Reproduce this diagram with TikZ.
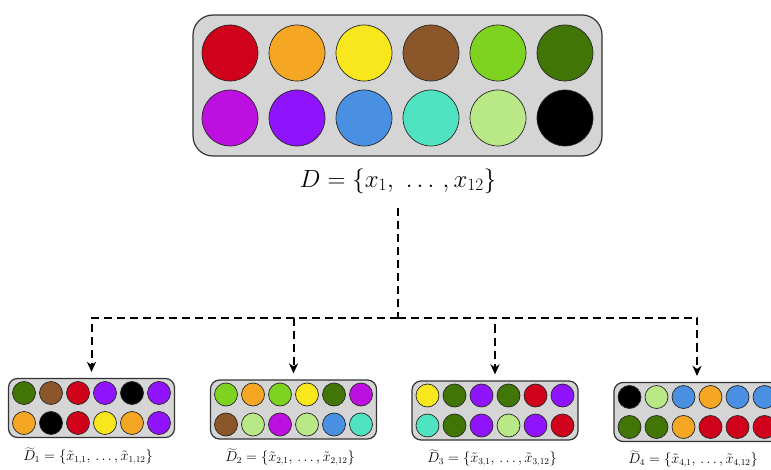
\documentclass[tikz,border=0pt]{standalone}
\usetikzlibrary{arrows.meta,calc}
\definecolor{cR}{HTML}{D0021B}
\definecolor{cO}{HTML}{F5A623}
\definecolor{cY}{HTML}{F8E71C}
\definecolor{cB}{HTML}{8B572A}
\definecolor{cL}{HTML}{7ED321}
\definecolor{cG}{HTML}{417505}
\definecolor{cM}{HTML}{BD10E0}
\definecolor{cP}{HTML}{9013FE}
\definecolor{cU}{HTML}{4A90E2}
\definecolor{cT}{HTML}{50E3C2}
\definecolor{cA}{HTML}{B8E986}
\definecolor{cK}{HTML}{000000}
\definecolor{boxgray}{HTML}{D5D5D5}
\begin{document}
\begin{tikzpicture}[x=1pt,y=-1pt,
  bigbox/.style={draw=black!80, line width=1.2pt, fill=boxgray, rounded corners=20pt, minimum width=409pt, minimum height=141pt, inner sep=0pt},
  smallbox/.style={draw=black!80, line width=1.2pt, fill=boxgray, rounded corners=9pt, minimum width=166pt, minimum height=59pt, inner sep=0pt},
  ball/.style={draw=black!85, line width=0.7pt},
  flow/.style={line width=2pt, dash pattern=on 8pt off 5pt},
  flowarrow/.style={flow, -{Stealth[length=10pt,width=9pt,inset=3pt]}, shorten >=6pt},
  smalllab/.style={font=\fontsize{13.5}{16}\selectfont, inner sep=1pt}
]
\useasboundingbox (0,0) rectangle (771,470);

% big box
\node[bigbox] (big) at (397.5,85.5) {};
\foreach \c [count=\i from 0] in {cR,cO,cY,cB,cL,cG}
  \filldraw[fill=\c, ball] ($(big.center)+(-167.5+67*\i,-32.5)$) circle (28);
\foreach \c [count=\i from 0] in {cM,cP,cU,cT,cA,cK}
  \filldraw[fill=\c, ball] ($(big.center)+(-167.5+67*\i,32.5)$) circle (28);
\node[font=\fontsize{26}{30}\selectfont] (biglab) at (398,181) {$D = \{x_1,\ \ldots\,,x_{12}\}$};

% small boxes
\node[smallbox] (b1) at (91.5,408) {};
\node[smallbox] (b2) at (293.5,409.5) {};
\node[smallbox] (b3) at (495,410.5) {};
\node[smallbox] (b4) at (697,412) {};

\foreach \bx/\rowa/\rowb in {
  b1/{cG,cB,cR,cP,cK,cP}/{cO,cK,cR,cY,cO,cP},
  b2/{cL,cO,cL,cY,cG,cM}/{cB,cA,cM,cA,cU,cT},
  b3/{cY,cG,cP,cG,cR,cP}/{cT,cG,cP,cA,cP,cR},
  b4/{cK,cA,cU,cO,cU,cU}/{cG,cG,cO,cR,cR,cR}}{
  \foreach \c [count=\i from 0] in \rowa
    \filldraw[fill=\c, ball] ($(\bx.center)+(-67.5+27*\i,-15)$) circle (11.5);
  \foreach \c [count=\i from 0] in \rowb
    \filldraw[fill=\c, ball] ($(\bx.center)+(-67.5+27*\i,15)$) circle (11.5);
}

\node[smalllab] (l1) at (88,456) {$\widetilde{D}_1 = \bigl\{\tilde{x}_{1,1},\,\ldots,\tilde{x}_{1,12}\bigr\}$};
\node[smalllab] (l2) at (290,457) {$\widetilde{D}_2 = \bigl\{\tilde{x}_{2,1},\,\ldots,\tilde{x}_{2,12}\bigr\}$};
\node[smalllab] (l3) at (492,458) {$\widetilde{D}_3 = \bigl\{\tilde{x}_{3,1},\,\ldots,\tilde{x}_{3,12}\bigr\}$};
\node[smalllab] (l4) at (693,459) {$\widetilde{D}_4 = \bigl\{\tilde{x}_{4,1},\,\ldots,\tilde{x}_{4,12}\bigr\}$};

% connectors
\coordinate (top) at (397.5,208);
\coordinate (hub) at (397.5,318);
\draw[flow] (top) -- (hub);
\draw[flowarrow] (hub) -| (b1.north);
\draw[flowarrow] (hub) -| (b2.north);
\draw[flowarrow] (hub) -| (b3.north);
\draw[flowarrow] (hub) -| (b4.north);
\end{tikzpicture}
\end{document}
